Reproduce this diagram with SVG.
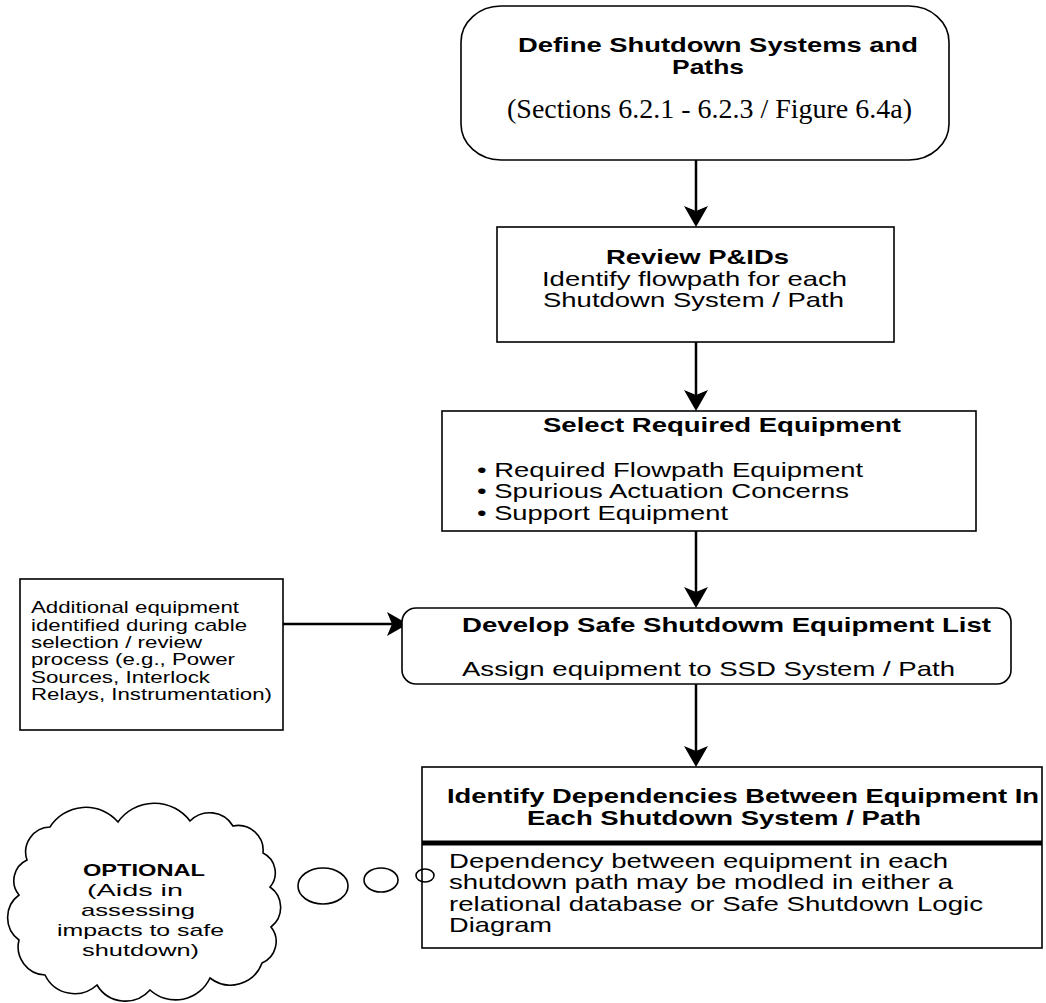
<svg xmlns="http://www.w3.org/2000/svg" width="1046" height="1003" viewBox="0 0 1046 1003">
<style>
.box{fill:#fff;stroke:#000;stroke-width:1.6}
.t{font-family:"Liberation Sans",Arial,sans-serif;fill:#000}
.b{font-weight:bold}
.s{font-family:"Liberation Serif","Times New Roman",serif;fill:#000}
.conn{fill:none;stroke:#000;stroke-width:2.5}
.m{font-size:21px}
.sm{font-size:17px}
</style>
<defs>
<marker id="arr" markerUnits="userSpaceOnUse" viewBox="-14 -13 24 26" markerWidth="24" markerHeight="26" refX="0" refY="0" orient="auto">
<path d="M9,0 L-12,-12 L-7,0 L-12,12 Z" fill="#000"/>
</marker>
</defs>
<rect width="1046" height="1003" fill="#fff"/>

<g id="connectors">
<path class="conn" d="M696,160 V218" marker-end="url(#arr)"/>
<path class="conn" d="M696,342 V402" marker-end="url(#arr)"/>
<path class="conn" d="M696,531 V599" marker-end="url(#arr)"/>
<path class="conn" d="M696,684 V758" marker-end="url(#arr)"/>
<path class="conn" d="M283,624 H399" marker-end="url(#arr)"/>
</g>

<g id="define">
<rect class="box" x="461" y="6" width="488" height="154" rx="40" ry="36"/>
<text class="t b m" x="518" y="52" textLength="400" lengthAdjust="spacingAndGlyphs">Define Shutdown Systems and</text>
<text class="t b m" x="672" y="74" textLength="72" lengthAdjust="spacingAndGlyphs">Paths</text>
<text class="s" x="507" y="118" font-size="27" textLength="405" lengthAdjust="spacingAndGlyphs">(Sections 6.2.1 - 6.2.3 / Figure 6.4a)</text>
</g>

<g id="review">
<rect class="box" x="497" y="227" width="397" height="115"/>
<text class="t b m" x="606" y="264" textLength="183" lengthAdjust="spacingAndGlyphs">Review P&amp;IDs</text>
<text class="t m" x="542" y="286" textLength="305" lengthAdjust="spacingAndGlyphs">Identify flowpath for each</text>
<text class="t m" x="543" y="307" textLength="301" lengthAdjust="spacingAndGlyphs">Shutdown System / Path</text>
</g>

<g id="select">
<rect class="box" x="442" y="411" width="534" height="120"/>
<text class="t b m" x="543" y="432" textLength="358" lengthAdjust="spacingAndGlyphs">Select Required Equipment</text>
<text class="t m" x="477" y="477" textLength="386" lengthAdjust="spacingAndGlyphs">• Required Flowpath Equipment</text>
<text class="t m" x="477" y="498" textLength="372" lengthAdjust="spacingAndGlyphs">• Spurious Actuation Concerns</text>
<text class="t m" x="477" y="520" textLength="251" lengthAdjust="spacingAndGlyphs">• Support Equipment</text>
</g>

<g id="additional">
<rect class="box" x="20" y="579" width="263" height="151"/>
<text class="t sm" x="31" y="613" textLength="208" lengthAdjust="spacingAndGlyphs">Additional equipment</text>
<text class="t sm" x="31" y="631" textLength="216" lengthAdjust="spacingAndGlyphs">identified during cable</text>
<text class="t sm" x="31" y="648" textLength="171" lengthAdjust="spacingAndGlyphs">selection / review</text>
<text class="t sm" x="31" y="665" textLength="204" lengthAdjust="spacingAndGlyphs">process (e.g., Power</text>
<text class="t sm" x="31" y="683" textLength="179" lengthAdjust="spacingAndGlyphs">Sources, Interlock</text>
<text class="t sm" x="31" y="700" textLength="241" lengthAdjust="spacingAndGlyphs">Relays, Instrumentation)</text>
</g>

<g id="develop">
<rect class="box" x="402" y="608" width="609" height="76" rx="14" ry="14"/>
<text class="t b m" x="462" y="632" textLength="529" lengthAdjust="spacingAndGlyphs">Develop Safe Shutdowm Equipment List</text>
<text class="t m" x="462" y="676" textLength="493" lengthAdjust="spacingAndGlyphs">Assign equipment to SSD System / Path</text>
</g>

<g id="dependencies">
<rect class="box" x="422" y="767" width="620" height="181"/>
<line x1="422" y1="843" x2="1042" y2="843" stroke="#000" stroke-width="5"/>
<text class="t b m" x="447" y="803" textLength="592" lengthAdjust="spacingAndGlyphs">Identify Dependencies Between Equipment In</text>
<text class="t b m" x="527" y="825" textLength="394" lengthAdjust="spacingAndGlyphs">Each Shutdown System / Path</text>
<text class="t m" x="449" y="868" textLength="499" lengthAdjust="spacingAndGlyphs">Dependency between equipment in each</text>
<text class="t m" x="449" y="889" textLength="504" lengthAdjust="spacingAndGlyphs">shutdown path may be modled in either a</text>
<text class="t m" x="449" y="911" textLength="534" lengthAdjust="spacingAndGlyphs">relational database or Safe Shutdown Logic</text>
<text class="t m" x="449" y="932" textLength="103" lengthAdjust="spacingAndGlyphs">Diagram</text>
</g>

<g id="optional">
<path class="box" d="M50,827 A42.5,42.5 0 0 1 118,822 A44.6,44.6 0 0 1 190,821 A27.3,27.3 0 0 1 233,826 A25,25 0 0 1 263,853 A22,22 0 0 1 270,887 A24.8,24.8 0 0 1 271,927 A23.3,23.3 0 0 1 262,963 A33.5,33.5 0 0 1 210,978 A38,38 0 0 1 150,990 A33,33 0 0 1 97,985 A33,33 0 0 1 45,975 A28.2,28.2 0 0 1 19,940 A27.9,27.9 0 0 1 19,895 A22.7,22.7 0 0 1 27,860 A25,25 0 0 1 50,827 Z"/>
<text class="t b sm" x="83" y="876" textLength="122" lengthAdjust="spacingAndGlyphs">OPTIONAL</text>
<text class="t sm" x="87" y="896" textLength="96" lengthAdjust="spacingAndGlyphs">(Aids in</text>
<text class="t sm" x="81" y="916" textLength="114" lengthAdjust="spacingAndGlyphs">assessing</text>
<text class="t sm" x="57" y="936" textLength="167" lengthAdjust="spacingAndGlyphs">impacts to safe</text>
<text class="t sm" x="82" y="956" textLength="117" lengthAdjust="spacingAndGlyphs">shutdown)</text>
<ellipse class="box" cx="323" cy="886" rx="25" ry="18"/>
<ellipse class="box" cx="381" cy="880" rx="17" ry="12"/>
<ellipse cx="425" cy="875.5" rx="9" ry="6.5" fill="none" stroke="#000" stroke-width="1.6"/>
</g>
</svg>
